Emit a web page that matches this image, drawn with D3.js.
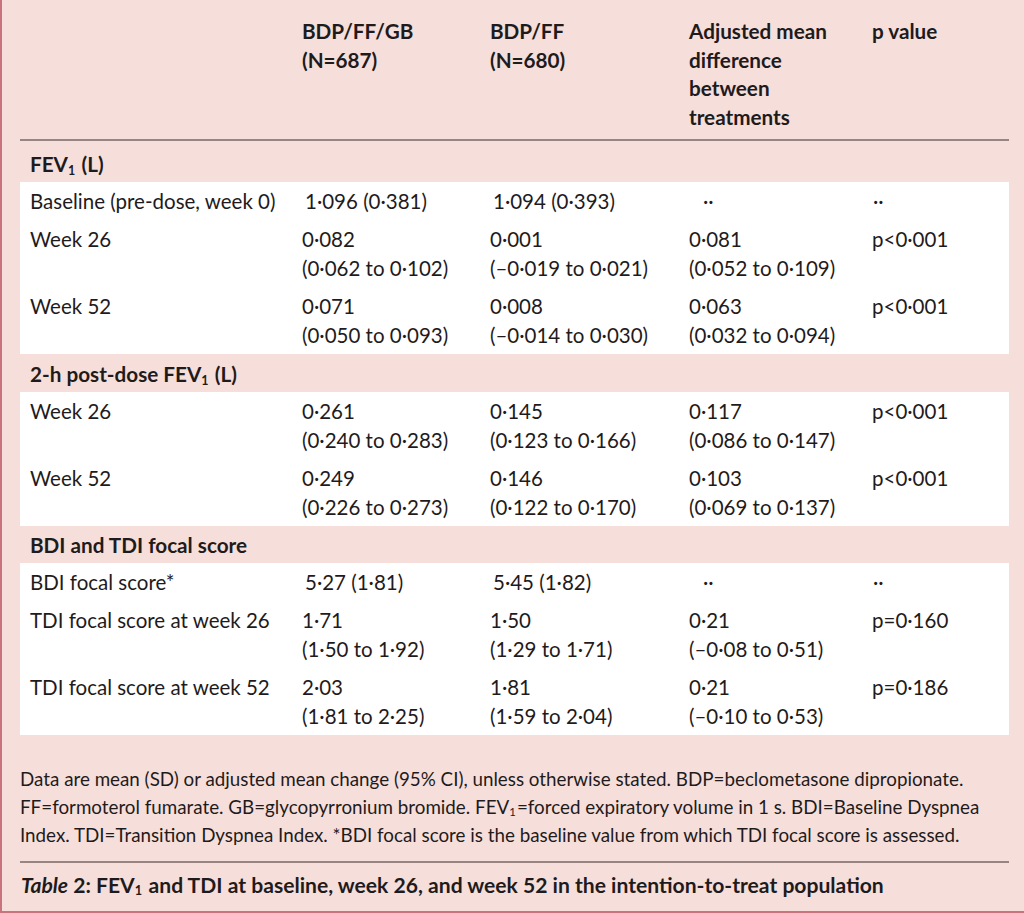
<!DOCTYPE html>
<html><head><meta charset="utf-8">
<script src="https://cdn.jsdelivr.net/npm/d3@7"></script>
<style>body{margin:0;background:#f6dfdb}svg{display:block}</style>
</head><body>
<script>
// ---------- DATA ----------
const columnHeaders = [["BDP/FF/GB","(N=687)"],["BDP/FF","(N=680)"],["Adjusted mean","difference","between","treatments"],["p value"]];
const sectionTitles = ["FEV₁ (L)","2-h post-dose FEV₁ (L)","BDI and TDI focal score"];
const rowSections = [0,0,0,1,1,2,2,2];
const rowLabels = ["Baseline (pre-dose, week 0)","Week 26","Week 52","Week 26","Week 52","BDI focal score*","TDI focal score at week 26","TDI focal score at week 52"];
const tripleMean = ["1·096 (0·381)","0·082","0·071","0·261","0·249","5·27 (1·81)","1·71","2·03"];
const tripleCI   = ["","(0·062 to 0·102)","(0·050 to 0·093)","(0·240 to 0·283)","(0·226 to 0·273)","","(1·50 to 1·92)","(1·81 to 2·25)"];
const dualMean   = ["1·094 (0·393)","0·001","0·008","0·145","0·146","5·45 (1·82)","1·50","1·81"];
const dualCI     = ["","(–0·019 to 0·021)","(–0·014 to 0·030)","(0·123 to 0·166)","(0·122 to 0·170)","","(1·29 to 1·71)","(1·59 to 2·04)"];
const diffMean   = ["··","0·081","0·063","0·117","0·103","··","0·21","0·21"];
const diffCI     = ["","(0·052 to 0·109)","(0·032 to 0·094)","(0·086 to 0·147)","(0·069 to 0·137)","","(–0·08 to 0·51)","(–0·10 to 0·53)"];
const pValues    = ["··","p<0·001","p<0·001","p<0·001","p<0·001","··","p=0·160","p=0·186"];
const footnoteLines = [
  "Data are mean (SD) or adjusted mean change (95% CI), unless otherwise stated. BDP=beclometasone dipropionate.",
  "FF=formoterol fumarate. GB=glycopyrronium bromide. FEV₁=forced expiratory volume in 1 s. BDI=Baseline Dyspnea",
  "Index. TDI=Transition Dyspnea Index. *BDI focal score is the baseline value from which TDI focal score is assessed."
];
const captionItalic = "Table";
const captionText = " 2: FEV₁ and TDI at baseline, week 26, and week 52 in the intention-to-treat population";

// ---------- LAYOUT ----------
const W = 1024, H = 913;
const FONT = "Lato, 'Noto Sans', sans-serif";
const INK = "#1f1b1c";
const PINK = "#f6dfdb";
const left = 20, right = 1009;

const svg = d3.select("body").append("svg").attr("width", W).attr("height", H);
svg.append("rect").attr("width", W).attr("height", H).attr("fill", PINK);

// column positions via ordinal scale
const colKeys = ["label","triple","dual","diff","p"];
const xCol = d3.scaleOrdinal().domain(colKeys).range([30, 302, 490, 689, 872]);

// row layout (computed cumulatively)
const lineGap = 29, rowBase = 38, sectionH = [42, 38, 37], headerLine = 140;
const rowLines = rowLabels.map((d,i) => tripleCI[i] ? 2 : 1);
const rowTop = [], sectTop = [], blockStart = [], blockEnd = [];
let y = headerLine;
rowSections.forEach((s,i) => {
  if (i === 0 || rowSections[i-1] !== s) {
    if (i > 0) blockEnd[rowSections[i-1]] = y;
    sectTop[s] = y; y += sectionH[s]; blockStart[s] = y;
  }
  rowTop[i] = y; y += rowBase + (rowLines[i]-1)*lineGap;
});
blockEnd[rowSections[rowSections.length-1]] = y;
const yRow = d3.scaleOrdinal().domain(d3.range(rowLabels.length)).range(rowTop.map(t => t + 19));

// helper: text with subscript ₁
function addText(sel, str, opts) {
  const t = sel.append("text").attr("x", opts.x).attr("y", opts.y)
    .attr("font-family", FONT).attr("font-size", opts.size).attr("fill", INK)
    .attr("font-weight", opts.weight || 400).attr("dominant-baseline", "central");
  const parts = str.split("₁");
  parts.forEach((p,k) => {
    if (p.length) t.append("tspan").text(p);
    if (k < parts.length-1) {
      t.append("tspan").attr("font-size", opts.size*0.6).attr("dy", opts.size*0.3).text("1");
      t.append("tspan").attr("dy", -opts.size*0.3).text("\u200A");
    }
  });
  return t;
}

const BODY = 20.5, HEAD = 20.7, FOOT = 18.8, CAP = 21.1;

// white blocks
blockStart.forEach((b,s) => {
  svg.append("rect").attr("x", left).attr("y", b).attr("width", right-left).attr("height", blockEnd[s]-b).attr("fill", "#ffffff");
});

// header rule
svg.append("line").attr("x1", left).attr("x2", right).attr("y1", headerLine).attr("y2", headerLine)
  .attr("stroke", "#3b2c2c").attr("stroke-width", 1.2);

// column headers
columnHeaders.forEach((lines, c) => {
  lines.forEach((l, k) => addText(svg, l, {x: xCol(colKeys[c+1]), y: 31 + k*28.7, size: HEAD, weight: 700}));
});

// section titles
sectionTitles.forEach((s, i) => addText(svg, s, {x: xCol("label"), y: sectTop[i] + sectionH[i] - 18.5, size: HEAD, weight: 700}));

// rows
const cellCols = [["triple", tripleMean, tripleCI], ["dual", dualMean, dualCI], ["diff", diffMean, diffCI]];
rowLabels.forEach((lab, i) => {
  const yy = yRow(i);
  addText(svg, lab, {x: xCol("label"), y: yy, size: BODY});
  cellCols.forEach(([key, m, ci]) => {
    const dx = m[i] === "··" ? 14 : (ci[i] ? 0 : 3);
    addText(svg, m[i], {x: xCol(key) + dx, y: yy, size: BODY});
    if (ci[i]) addText(svg, ci[i], {x: xCol(key), y: yy + lineGap, size: BODY});
  });
  addText(svg, pValues[i], {x: xCol("p") + (pValues[i] === "··" ? 1 : 0), y: yy, size: BODY});
});

// footnote
footnoteLines.forEach((l, k) => addText(svg, l, {x: 20, y: 778 + k*27.8, size: FOOT}));

// caption rule
svg.append("line").attr("x1", left).attr("x2", right).attr("y1", 862).attr("y2", 862)
  .attr("stroke", "#3b2c2c").attr("stroke-width", 1.2);

// caption
const cap = svg.append("text").attr("x", 21).attr("y", 884).attr("font-family", FONT)
  .attr("font-size", CAP).attr("font-weight", 700).attr("fill", INK).attr("dominant-baseline", "central");
cap.append("tspan").attr("font-style", "italic").text(captionItalic);
captionText.split("₁").forEach((p,k,arr) => {
  cap.append("tspan").text(p);
  if (k < arr.length-1) {
    cap.append("tspan").attr("font-size", CAP*0.6).attr("dy", CAP*0.3).text("1");
    cap.append("tspan").attr("dy", -CAP*0.3).text("\u200A");
  }
});

// outer borders
svg.append("line").attr("x1", 1).attr("x2", 1).attr("y1", 0).attr("y2", H).attr("stroke", "#c9737f").attr("stroke-width", 2);
svg.append("line").attr("x1", 0).attr("x2", W).attr("y1", 912).attr("y2", 912).attr("stroke", "#c9737f").attr("stroke-width", 2);
</script>
</body></html>
